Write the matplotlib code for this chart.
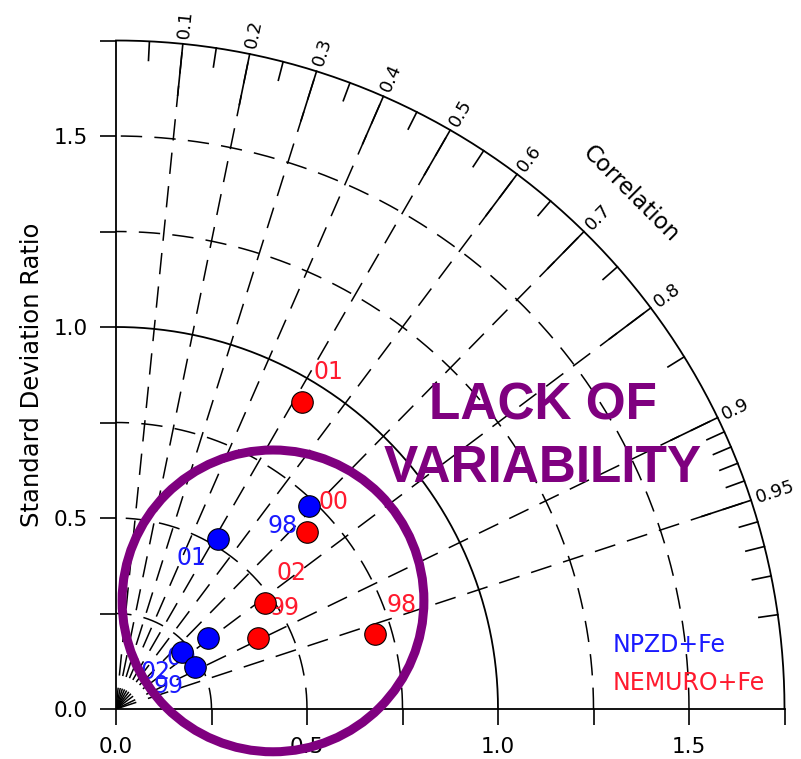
import numpy as np
import matplotlib
matplotlib.use("Agg")
import matplotlib.pyplot as plt
from matplotlib.patches import Circle

# --- data ---
npzd_years = ['98', '01', '00', '02', '99']
npzd_std = [0.733, 0.519, 0.304, 0.228, 0.234]
npzd_corr = [0.689, 0.514, 0.792, 0.758, 0.883]

nemuro_years = ['01', '00', '02', '99', '98']
nemuro_std = [0.940, 0.681, 0.478, 0.416, 0.706]
nemuro_corr = [0.518, 0.734, 0.815, 0.894, 0.961]

corr_major = [0.1, 0.2, 0.3, 0.4, 0.5, 0.6, 0.7, 0.8, 0.9, 0.95]
corr_minor = [0.05, 0.15, 0.25, 0.35, 0.45, 0.55, 0.65, 0.75, 0.85,
              0.91, 0.92, 0.93, 0.94, 0.96, 0.97, 0.98, 0.99]
std_dashed = [0.25, 0.5, 0.75, 1.25, 1.5]
std_max = 1.75

purple = '#7F007F'
dash = (0, (14, 8))


def to_xy(std, corr):
    std = np.asarray(std)
    theta = np.arccos(np.asarray(corr))
    return std * np.cos(theta), std * np.sin(theta)


fig = plt.figure(figsize=(8.01, 7.59), dpi=100)
ax = fig.add_axes([116 / 801, 50 / 759, 668.5 / 801, 668.5 / 759])
ax.set_xlim(0, std_max)
ax.set_ylim(0, std_max)

for s in ['top', 'right']:
    ax.spines[s].set_visible(False)
for s in ['left', 'bottom']:
    ax.spines[s].set_linewidth(1.3)

ticks = np.arange(0, std_max + 0.01, 0.25)
labels = ['%.1f' % t if abs(t * 2 - round(t * 2)) < 1e-6 else '' for t in ticks]
ax.set_xticks(ticks)
ax.set_xticklabels(labels)
ax.set_yticks(ticks)
ax.set_yticklabels(labels)
ax.tick_params(direction='out', length=11.5, width=1.2, labelsize=15.5, pad=9)

# --- arcs ---
th = np.linspace(0, np.pi / 2, 300)
for r in std_dashed:
    ax.plot(r * np.cos(th), r * np.sin(th), color='black', lw=1.1, ls=dash, clip_on=False)
for r in [1.0, std_max]:
    ax.plot(r * np.cos(th), r * np.sin(th), color='black', lw=1.3, clip_on=False)

# --- correlation rays and ticks ---
for c in corr_major:
    a = np.arccos(c)
    ax.plot([0, std_max * np.cos(a)], [0, std_max * np.sin(a)], color='black', lw=1.1, ls=dash)
    ax.plot([(std_max - 0.135) * np.cos(a), std_max * np.cos(a)],
            [(std_max - 0.135) * np.sin(a), std_max * np.sin(a)], color='black', lw=1.2)
    ax.text(1.765 * np.cos(a), 1.765 * np.sin(a), '%g' % c, fontsize=13,
            rotation=np.degrees(a), rotation_mode='anchor', ha='left', va='center')
for c in corr_minor:
    a = np.arccos(c)
    ax.plot([(std_max - 0.05) * np.cos(a), std_max * np.cos(a)],
            [(std_max - 0.05) * np.sin(a), std_max * np.sin(a)], color='black', lw=1.2)

ax.text(1.907 * np.cos(np.pi / 4), 1.907 * np.sin(np.pi / 4), 'Correlation',
        fontsize=16.5, rotation=-45, ha='center', va='center', rotation_mode='anchor')
ax.text(-0.22, 0.875, 'Standard Deviation Ratio', fontsize=17.5, rotation=90,
        ha='center', va='center')

# --- points ---
x, y = to_xy(npzd_std, npzd_corr)
ax.plot(x, y, 'o', ms=15.5, mfc='#0000FF', mec='black', mew=0.8, ls='none', zorder=5)
for xi, yi, t in zip(x, y, npzd_years):
    ax.annotate(t, (xi, yi), xytext=(-19, -14), textcoords='offset points',
                color='#1a1aff', fontsize=17, ha='center', va='center', zorder=4)

x, y = to_xy(nemuro_std, nemuro_corr)
ax.plot(x, y, 'o', ms=15.5, mfc='#FF0000', mec='black', mew=0.8, ls='none', zorder=5)
for xi, yi, t in zip(x, y, nemuro_years):
    ax.annotate(t, (xi, yi), xytext=(19, 21.5), textcoords='offset points',
                color='#ff1a2e', fontsize=17, ha='center', va='center', zorder=4)

ax.text(1.301, 0.1675, 'NPZD+Fe', color='#1a1aff', fontsize=17, ha='left', va='center')
ax.text(1.301, 0.068, 'NEMURO+Fe', color='#ff1a2e', fontsize=17, ha='left', va='center')

# --- annotation overlay ---
ax.add_patch(Circle((0.411, 0.283), 0.395, fill=False, ec=purple, lw=6.5,
                    clip_on=False, zorder=10))
ax.text(1.118, 0.759, 'LACK OF', color=purple, fontsize=37, fontweight='bold',
        family='Liberation Sans', ha='center', va='baseline', zorder=10)
ax.text(1.118, 0.594, 'VARIABILITY', color=purple, fontsize=37, fontweight='bold',
        family='Liberation Sans', ha='center', va='baseline', zorder=10)

fig.savefig('out.png', dpi=100)
